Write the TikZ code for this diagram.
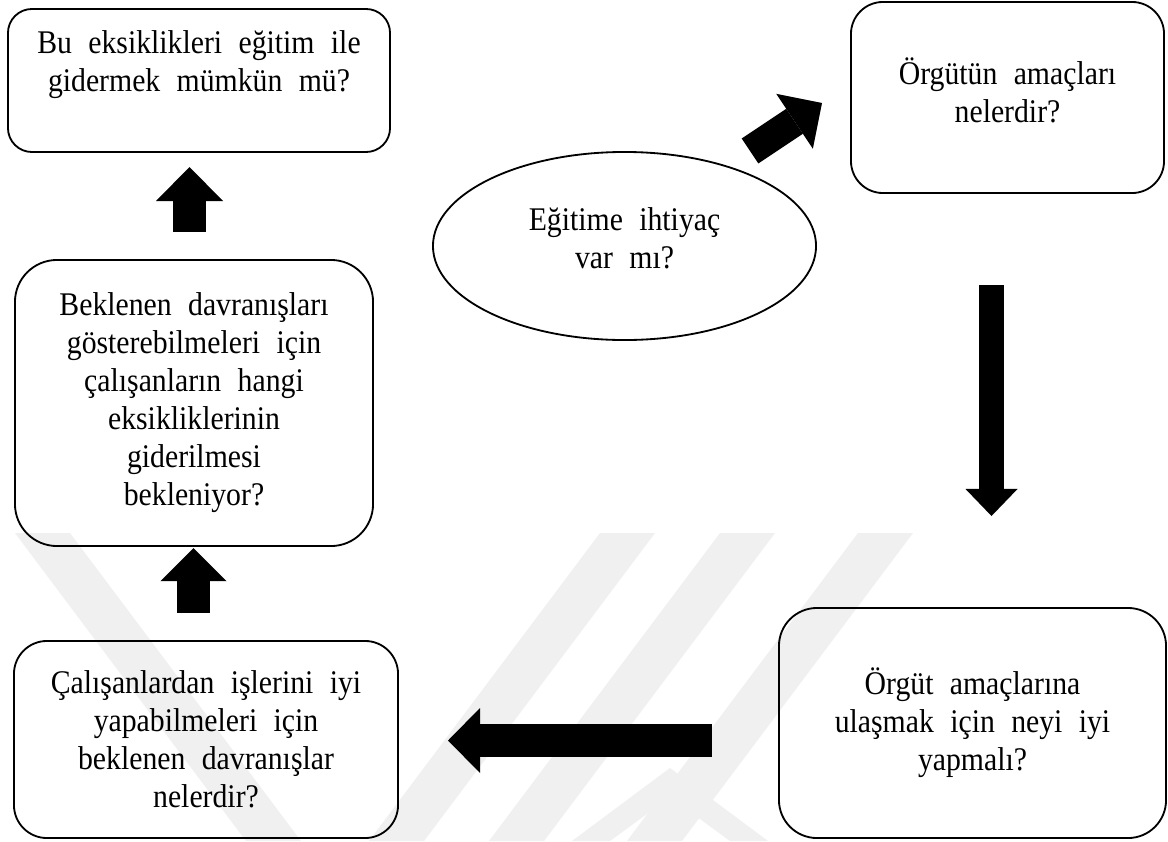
\documentclass[tikz,border=0pt]{standalone}
\usepackage{fontspec}
\setmainfont{Liberation Serif}[FakeStretch=0.9,WordSpace=2.2]
\usetikzlibrary{arrows.meta,shapes.geometric}
\tikzset{
  qtext/.style={align=center,inner sep=0pt,font=\fontsize{23.5}{27}\selectfont},
  qbox/.style={qtext,draw,line width=1.3pt,rectangle},
  qell/.style={qtext,draw,line width=1.3pt,ellipse},
  barrow/.style n args={3}{line width=#1,-{Triangle[length=#2,width=#3,line width=0pt]}},
  wm/.style={fill=black!6}
}
\begin{document}
\begin{tikzpicture}[x=0.025cm,y=-0.025cm]
\useasboundingbox (0,0) rectangle (1168,841);
\fill[white] (0,0) rectangle (1168,841);
% watermark
\fill[wm] (15,533) -- (70,533) -- (301,841) -- (246,841) -- cycle;
\fill[wm] (600,533) -- (655,533) -- (424,841) -- (369,841) -- cycle;
\fill[wm] (720,533) -- (775,533) -- (544,841) -- (489,841) -- cycle;
\fill[wm] (858,533) -- (913,533) -- (682,841) -- (627,841) -- cycle;
\fill[wm] (670,768) -- (768,841) -- (730,841) -- (670,797) -- (610,841) -- (572,841) -- cycle;
% nodes
\node[qbox,rounded corners=0.6cm,minimum width=9.55cm,minimum height=3.575cm] (a) at (199,80.5)
  {Bu eksiklikleri eğitim ile\\gidermek mümkün mü?\\\mbox{}};
\node[qbox,rounded corners=1.05cm,minimum width=8.95cm,minimum height=7.15cm] (b) at (194,403)
  {Beklenen davranışları\\gösterebilmeleri için\\çalışanların hangi\\eksikliklerinin\\giderilmesi\\bekleniyor?};
\node[qbox,rounded corners=0.825cm,minimum width=9.6cm,minimum height=4.925cm] (c) at (206,739.5)
  {Çalışanlardan işlerini iyi\\yapabilmeleri için\\beklenen davranışlar\\nelerdir?};
\node[qbox,rounded corners=0.95cm,minimum width=9.675cm,minimum height=5.75cm] (d) at (972.5,723)
  {Örgüt amaçlarına\\ulaşmak için neyi iyi\\yapmalı?};
\node[qbox,rounded corners=0.8cm,minimum width=7.825cm,minimum height=4.775cm] (e) at (1007.5,97.5)
  {Örgütün amaçları\\nelerdir?\\[-17pt]\mbox{}};
\node[qell,minimum width=9.575cm,minimum height=4.7cm] (q) at (624.5,246)
  {Eğitime ihtiyaç\\var mı?\\[-15pt]\mbox{}};
% arrow end points
\coordinate (gs) at (750,151);   \coordinate (ge) at (822,103);
\coordinate (ds) at (991.5,285); \coordinate (de) at (991.5,516);
\coordinate (ls) at (712,740.5); \coordinate (le) at (448,740.5);
\coordinate (u2s) at (193.5,613); \coordinate (u2e) at (193.5,548);
\coordinate (u1s) at (189.5,232); \coordinate (u1e) at (189.5,167);
% block arrows
\draw[barrow={0.75cm}{0.825cm}{1.65cm}] (gs) -- (ge);
\draw[barrow={0.625cm}{0.675cm}{1.3cm}] (ds) -- (de);
\draw[barrow={0.825cm}{0.8cm}{1.625cm}] (ls) -- (le);
\draw[barrow={0.8cm}{0.825cm}{1.65cm}] (u2s) -- (u2e);
\draw[barrow={0.825cm}{0.85cm}{1.675cm}] (u1s) -- (u1e);
\end{tikzpicture}
\end{document}
